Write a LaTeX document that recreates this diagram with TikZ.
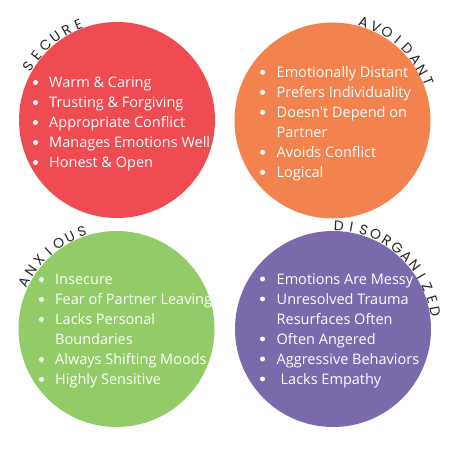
\documentclass[tikz,border=0pt]{standalone}
\usepackage{fontspec}
\setmainfont{Open Sans}
\newfontfamily\curvefont{Poppins}
\definecolor{cred}{HTML}{EE4B52}
\definecolor{corange}{HTML}{F2834F}
\definecolor{cgreen}{HTML}{93CB68}
\definecolor{cpurple}{HTML}{7A69AB}
\begin{document}
\begin{tikzpicture}[x=1pt,y=-1pt,
  blob/.style={circle,inner sep=0pt,minimum size=196pt},
  item/.style={anchor=base west,inner sep=0pt,text=white,font=\fontsize{14.5}{17}\selectfont},
  dot/.style={circle,fill=white,inner sep=0pt,minimum size=5pt},
  arcletter/.style={anchor=base,inner sep=0pt,text=black!85,font=\curvefont\fontsize{14}{16}\selectfont}]
\useasboundingbox (0,0) rectangle (450,450);
\fill[white] (0,0) rectangle (450,450);
% circles
\node[blob,fill=cred] (secure) at (117,120) {};
\node[blob,fill=corange] (avoid) at (332.5,120.5) {};
\node[blob,fill=cgreen] (anx) at (116.5,329) {};
\node[blob,fill=cpurple] (dis) at (333,329) {};
% curved titles
\foreach \ch [count=\i from 0] in {S,E,C,U,R,E}{
  \pgfmathsetmacro{\a}{148.5-7.3*\i}
  \node[arcletter,rotate=\a-90] (ts\i) at ({117+98.5*cos(\a)},{120-98.5*sin(\a)}) {\ch};}
\foreach \ch [count=\i from 0] in {A,V,O,I,D,A,N,T}{
  \pgfmathsetmacro{\a}{72.5-7.2*\i}
  \node[arcletter,rotate=\a-90] (ta\i) at ({332.5+98.5*cos(\a)},{120.5-98.5*sin(\a)}) {\ch};}
\foreach \ch [count=\i from 0] in {A,N,X,I,O,U,S}{
  \pgfmathsetmacro{\a}{153-7.25*\i}
  \node[arcletter,rotate=\a-90] (tx\i) at ({116.5+98.5*cos(\a)},{329-98.5*sin(\a)}) {\ch};}
\foreach \ch [count=\i from 0] in {D,I,S,O,R,G,A,N,I,Z,E,D}{
  \pgfmathsetmacro{\a}{86.7-7.0*\i}
  \node[arcletter,rotate=\a-90] (td\i) at ({333+98.5*cos(\a)},{329-98.5*sin(\a)}) {\ch};}
% secure items
\foreach \t [count=\i from 0] in {Warm \& Caring,Trusting \& Forgiving,Appropriate Conflict,Manages Emotions Well,Honest \& Open}{
  \node[dot] (sb\i) at (35.5,{82.5+20*\i}) {};
  \node[item] (si\i) at (49,{87.5+20*\i}) {\t};}
% avoidant items
\foreach \t/\b [count=\i from 0] in {Emotionally Distant/1,Prefers Individuality/1,Doesn\textquotesingle t Depend on/1,Partner/0,Avoids Conflict/1,Logical/1}{
  \ifnum\b=1 \node[dot] (ab\i) at (262.5,{72.3+20*\i}) {};\fi
  \node[item] (ai\i) at (276.5,{77.3+20*\i}) {\t};}
% anxious items
\foreach \t/\b [count=\i from 0] in {Insecure/1,Fear of Partner Leaving/1,Lacks Personal/1,Boundaries/0,Always Shifting Moods/1,Highly Sensitive/1}{
  \ifnum\b=1 \node[dot] (xb\i) at (41.5,{279.5+20*\i}) {};\fi
  \node[item] (xi\i) at (55,{284.5+20*\i}) {\t};}
% disorganized items
\foreach \t/\b [count=\i from 0] in {Emotions Are Messy/1,Unresolved Trauma/1,Resurfaces Often/0,Often Angered/1,Aggressive Behaviors/1}{
  \ifnum\b=1 \node[dot] (db\i) at (262.5,{279+20*\i}) {};\fi
  \node[item] (di\i) at (276.5,{284+20*\i}) {\t};}
\node[dot] (db5) at (262.5,379) {};
\node[item] (di5) at (280.5,384) {Lacks Empathy};
\end{tikzpicture}
\end{document}
